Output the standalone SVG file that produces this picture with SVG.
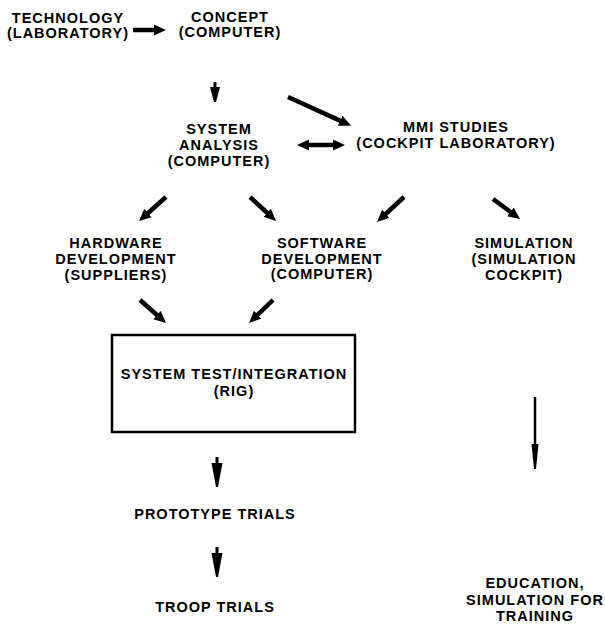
<svg xmlns="http://www.w3.org/2000/svg" width="605" height="629" viewBox="0 0 605 629">
<style>
.t{font-family:"Liberation Sans",Arial,sans-serif;font-size:14.5px;font-weight:bold;letter-spacing:1px;text-anchor:middle;fill:#000}
.c{stroke:#000;stroke-width:4.5;fill:none}
.s{fill:#000;stroke:none}
</style>
<defs>
<marker id="h" markerUnits="userSpaceOnUse" markerWidth="14" markerHeight="14" refX="1" refY="6" orient="auto-start-reverse" viewBox="0 0 14 14">
<path d="M0,0.5 L12,6 L0,11.5 Z" fill="#000"/>
</marker>
</defs>
<rect width="605" height="629" fill="#fff"/>
<g id="technology"><text class="t" x="68" y="23">TECHNOLOGY</text><text class="t" x="68" y="38">(LABORATORY)</text></g>
<g id="concept"><text class="t" x="230" y="22">CONCEPT</text><text class="t" x="230" y="37">(COMPUTER)</text></g>
<g id="system-analysis"><text class="t" x="219" y="134">SYSTEM</text><text class="t" x="219" y="150">ANALYSIS</text><text class="t" x="219" y="166">(COMPUTER)</text></g>
<g id="mmi-studies"><text class="t" x="456" y="132">MMI STUDIES</text><text class="t" x="456" y="148">(COCKPIT LABORATORY)</text></g>
<g id="hardware"><text class="t" x="116" y="248">HARDWARE</text><text class="t" x="116" y="264">DEVELOPMENT</text><text class="t" x="116" y="280">(SUPPLIERS)</text></g>
<g id="software"><text class="t" x="322" y="248">SOFTWARE</text><text class="t" x="322" y="264">DEVELOPMENT</text><text class="t" x="322" y="279">(COMPUTER)</text></g>
<g id="simulation"><text class="t" x="524" y="248">SIMULATION</text><text class="t" x="524" y="264">(SIMULATION</text><text class="t" x="524" y="280">COCKPIT)</text></g>
<g id="system-test"><rect x="112" y="335" width="243" height="97" fill="none" stroke="#000" stroke-width="2.5"/><text class="t" x="234" y="379">SYSTEM TEST/INTEGRATION</text><text class="t" x="234" y="396">(RIG)</text></g>
<g id="prototype"><text class="t" x="215" y="519">PROTOTYPE TRIALS</text></g>
<g id="troop"><text class="t" x="215" y="612">TROOP TRIALS</text></g>
<g id="education"><text class="t" x="535" y="588">EDUCATION,</text><text class="t" x="535" y="605">SIMULATION FOR</text><text class="t" x="535" y="621">TRAINING</text></g>
<g id="connectors">
<line class="c" x1="133" y1="30" x2="155" y2="30" marker-end="url(#h)"/>
<path class="s" d="M213.5,82 h3 v5 h3.5 L216,102 h-2 L210,87 h3.5 z"/>
<line class="c" x1="288" y1="97" x2="341.1" y2="121.1" marker-end="url(#h)"/>
<line class="c" x1="308" y1="145" x2="334" y2="145" marker-start="url(#h)" marker-end="url(#h)"/>
<line class="c" x1="166" y1="197" x2="147.2" y2="213.7" marker-end="url(#h)"/>
<line class="c" x1="250" y1="197" x2="267.9" y2="213.5" marker-end="url(#h)"/>
<line class="c" x1="404" y1="197" x2="385.1" y2="214.5" marker-end="url(#h)"/>
<line class="c" x1="493" y1="199" x2="511.2" y2="212.5" marker-end="url(#h)"/>
<line class="c" x1="140" y1="300" x2="157.8" y2="315.7" marker-end="url(#h)"/>
<line class="c" x1="273" y1="300" x2="257" y2="315.4" marker-end="url(#h)"/>
<line x1="535" y1="397" x2="535" y2="450" stroke="#000" stroke-width="2.5"/>
<path class="s" d="M531.5,444 h7 L536,469 h-2 z"/>
<path class="s" d="M215.5,457 h3 v6 h4 L218,487 h-2 L211.5,463 h4 z"/>
<path class="s" d="M215.5,547 h3 v6 h4 L218,577 h-2 L211.5,553 h4 z"/>
</g>
</svg>
